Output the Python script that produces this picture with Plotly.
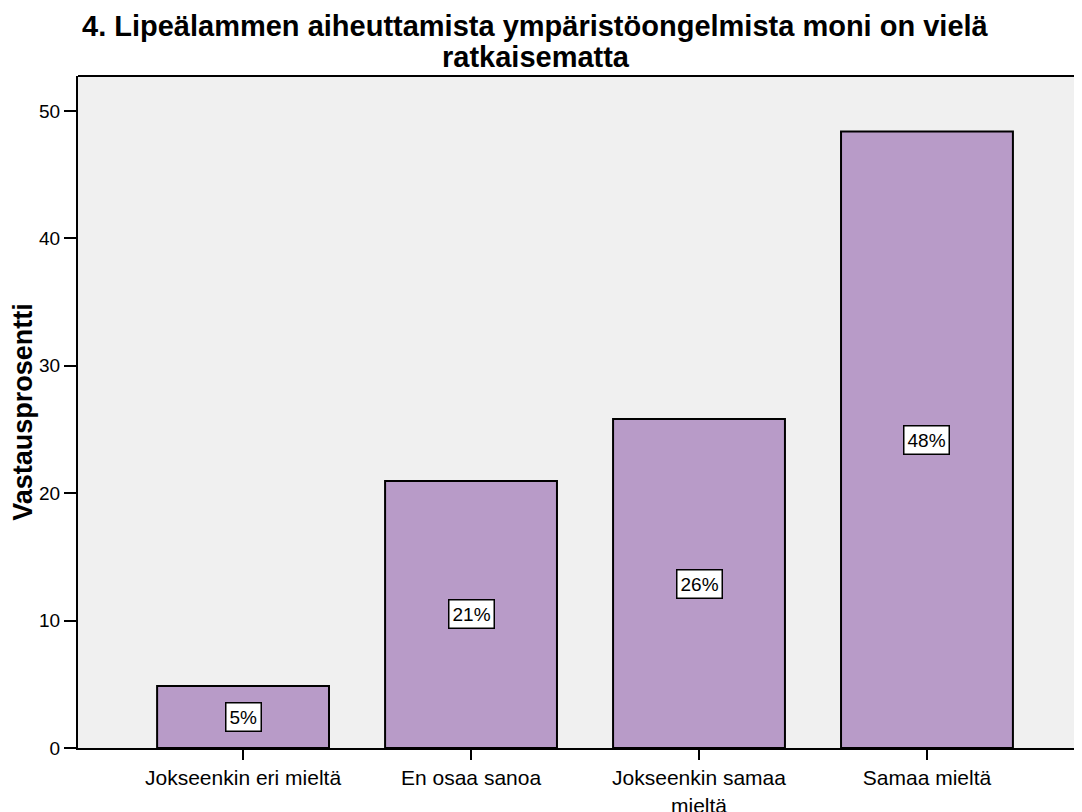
import plotly.graph_objects as go

# %% data
categories = ["Jokseenkin eri mieltä", "En osaa sanoa", "Jokseenkin samaa<br>mieltä", "Samaa mieltä"]
percentages = [4.87, 20.96, 25.82, 48.4]
labels = ["5%", "21%", "26%", "48%"]
title_lines = ["4. Lipeälammen aiheuttamista ympäristöongelmista moni on vielä", "ratkaisematta"]

FONT = "Liberation Sans, Arial, sans-serif"

# %% figure
fig = go.Figure()
fig.add_trace(
    go.Bar(
        x=categories,
        y=percentages,
        width=0.754,
        marker=dict(color="#B89BC8", line=dict(color="black", width=2)),
        hoverinfo="skip",
    )
)

# white label boxes in the middle of each bar
for cat, val, lab in zip(categories, percentages, labels):
    fig.add_annotation(
        x=cat, y=val / 2, text=lab, showarrow=False,
        font=dict(family=FONT, size=19, color="black"),
        bgcolor="white", bordercolor="black", borderwidth=1.5, borderpad=3,
    )

# two-line bold title, tight line spacing
for line, ypos in zip(title_lines, [1.0744, 1.0283]):
    fig.add_annotation(
        xref="paper", yref="paper", x=0.456, y=ypos, xanchor="center", yanchor="middle",
        text="<b>" + line + "</b>", showarrow=False,
        font=dict(family=FONT, size=29, color="black"),
    )

fig.update_layout(
    width=1074, height=804,
    margin=dict(l=70, r=0, t=68, b=64),
    paper_bgcolor="white",
    plot_bgcolor="#F0F0F0",
    showlegend=False,
    font=dict(family=FONT, color="black"),
)

fig.update_xaxes(
    range=[-0.724, 3.68],
    automargin=False,
    showline=True, linecolor="black", linewidth=2,
    ticks="outside", ticklen=10, tickwidth=2, tickcolor="black",
    tickfont=dict(family=FONT, size=21),
    showgrid=False,
)
fig.update_yaxes(
    range=[0, 52.75],
    automargin=False,
    tickvals=[0, 10, 20, 30, 40, 50],
    showline=True, linecolor="black", linewidth=2,
    ticks="outside", ticklen=12, tickwidth=2, tickcolor="black",
    tickfont=dict(family=FONT, size=19),
    showgrid=False, zeroline=False,
    title=dict(text="<b>Vastausprosentti</b>", font=dict(family=FONT, size=27), standoff=12),
)

# top border of the plot area
fig.add_shape(type="line", xref="paper", yref="paper", x0=0, x1=1, y0=1, y1=1,
              line=dict(color="black", width=2))

fig.write_html("out.html")
